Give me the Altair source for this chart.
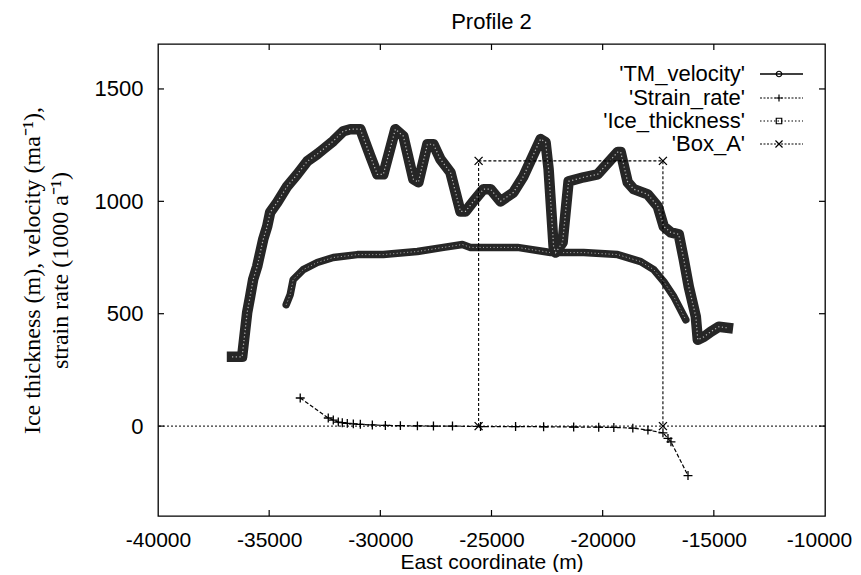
import altair as alt
import pandas as pd

# ---------------- data ----------------
ice_x = [-36670, -36216, -35991, -35856, -35721, -35540, -35270, -35090, -34955, -34640,
         -34189, -33739, -33288, -32838, -32567, -32117, -31667, -31351, -30901, -30450,
         -30135, -29865, -29324, -28964, -28513, -28288, -27883, -27613, -27297, -26847,
         -26396, -26171, -25811, -25360, -25045, -24594, -24009, -23559, -22793, -22568,
         -22432, -22207, -22117, -21802, -21532, -20856, -20225, -19324, -19189, -18874,
         -18604, -17973, -17523, -17252, -16937, -16577, -16351, -16126, -15811, -15721,
         -15450, -15135, -14775, -14369]
ice_y = [308, 308, 504, 576, 652, 710, 830, 888, 951, 995,
         1067, 1120, 1178, 1210, 1232, 1268, 1312, 1321, 1321, 1201,
         1120, 1120, 1321, 1290, 1098, 1085, 1254, 1254, 1187, 1129,
         955, 955, 1000, 1054, 1054, 1000, 1040, 1112, 1277, 1263,
         1143, 799, 772, 817, 1089, 1107, 1120, 1219, 1219, 1085,
         1054, 1031, 978, 888, 862, 853, 741, 620, 487, 384,
         397, 420, 442, 437]

vel_x = [-34234, -34054, -33919, -33468, -32838, -32117, -31036, -29865, -28333, -27162,
         -26306, -25946, -24594, -23829, -22342, -20856, -19324, -18288, -17703, -17252,
         -16802, -16261]
vel_y = [540, 585, 652, 696, 728, 750, 763, 763, 777, 795,
         808, 795, 795, 795, 772, 772, 763, 732, 696, 643,
         576, 473]

strain_x = [-33603, -32342, -32116, -31891, -31711, -31486, -31215, -30900, -30360, -29774,
            -29098, -28332, -27611, -26755, -25494, -23917, -22656, -21304, -20178, -19498,
            -18644, -17964, -17288, -17063, -16928, -16162]
strain_y = [125, 36, 27, 18, 15, 12, 10, 8, 5, 3,
            2, 1, 0, 0, -2, -2, -3, -4, -5, -6,
            -9, -18, -30, -55, -70, -220]

box_x = [-25580, -25580, -17290, -17290]
box_y = [0, 1180, 1180, 0]

x_ticks = [-40000, -35000, -30000, -25000, -20000, -15000, -10000]
y_ticks = [0, 500, 1000, 1500]
zero_line = [0]

legend_labels = ["'TM_velocity'", "'Strain_rate'", "'Ice_thickness'", "'Box_A'"]

title_text = "Profile 2"
x_title = "East coordinate (m)"
y_title = ["Ice thickness (m), velocity (ma\u207b\u00b9),", "strain rate (1000 a\u207b\u00b9)"]

# ---------------- layout / style ----------------
W, H = 667, 472
SANS = "Liberation Sans"
SERIF = "Liberation Serif"
BAND = "#262626"

xs = alt.Scale(domain=[-40000, -10000], nice=False, zero=False)
ys = alt.Scale(domain=[-400, 1700], nice=False, zero=False)

xaxis = alt.Axis(values=x_ticks, title=x_title, labelExpr="datum.value + ''",
                 ticks=False, tickSize=0, domain=False, grid=False,
                 labelFont=SANS, labelFontSize=21, labelColor="black", labelPadding=13,
                 labelFlush=False, labelOverlap=False, labelBound=False,
                 labelOffset={"condition": {"test": "datum.value == -10000", "value": -6}, "value": 0},
                 titleFont=SANS, titleFontSize=21, titleFontWeight="normal",
                 titleColor="black", titlePadding=1)
yaxis = alt.Axis(values=y_ticks, title=y_title, labelExpr="datum.value + ''",
                 ticks=False, tickSize=0, domain=False, grid=False,
                 labelFont=SANS, labelFontSize=22, labelColor="black", labelPadding=15,
                 labelOverlap=False,
                 titleFont=SERIF, titleFontSize=24, titleFontWeight="normal",
                 titleColor="black", titleX=-126, titleY=H / 2 - 10, titleAngle=270,
                 titleAlign="center", titleBaseline="middle", titleLineHeight=28)


def X(field):
    return alt.X(field, type="quantitative", scale=xs, axis=xaxis)


def Y(field):
    return alt.Y(field, type="quantitative", scale=ys, axis=yaxis)


ice_df = pd.DataFrame({"x": ice_x, "y": ice_y, "i": range(len(ice_x))})
vel_df = pd.DataFrame({"x": vel_x, "y": vel_y, "i": range(len(vel_x))})
str_df = pd.DataFrame({"x": strain_x, "y": strain_y, "i": range(len(strain_x))})
box_df = pd.DataFrame({"x": box_x, "y": box_y, "i": range(len(box_x))})

PLUS = "M-1,0L1,0M0,-1L0,1"
CROSS = "M-1,-1L1,1M1,-1L-1,1"

layers = []

# zero axis (dotted)
layers.append(alt.Chart(pd.DataFrame({"y": zero_line})).mark_rule(
    color="black", strokeWidth=1, strokeDash=[2, 2]).encode(y=Y("y")))

# velocity band
layers.append(alt.Chart(vel_df).mark_line(color=BAND, strokeWidth=7.5, strokeJoin="round",
                                          strokeCap="round").encode(x=X("x"), y=Y("y"), order="i:Q"))
layers.append(alt.Chart(vel_df).mark_line(color="#d8d8d8", strokeWidth=1, strokeDash=[1, 2.5],
                                          opacity=0.8).encode(x=X("x"), y=Y("y"), order="i:Q"))

# strain rate
layers.append(alt.Chart(str_df).mark_line(color="black", strokeWidth=1.2, strokeDash=[4, 2]).encode(
    x=X("x"), y=Y("y"), order="i:Q"))
layers.append(alt.Chart(str_df).mark_point(shape=PLUS, size=80, filled=False, stroke="black",
                                           strokeWidth=1.3, opacity=1).encode(x=X("x"), y=Y("y")))

# ice thickness band
layers.append(alt.Chart(ice_df).mark_line(color=BAND, strokeWidth=10.5, strokeJoin="round",
                                          strokeCap="square").encode(x=X("x"), y=Y("y"), order="i:Q"))
layers.append(alt.Chart(ice_df).mark_line(color="#dcdcdc", strokeWidth=1.2, strokeDash=[1.2, 2.5],
                                          opacity=0.8).encode(x=X("x"), y=Y("y"), order="i:Q"))

# Box_A
layers.append(alt.Chart(box_df).mark_line(color="black", strokeWidth=1.1, strokeDash=[3, 2]).encode(
    x=X("x"), y=Y("y"), order="i:Q"))
layers.append(alt.Chart(box_df).mark_point(shape=CROSS, size=64, filled=False, stroke="black",
                                           strokeWidth=1.3, opacity=1).encode(x=X("x"), y=Y("y")))

# inward tick marks (gnuplot style, mirrored)
xt_df = pd.DataFrame({"v": x_ticks[1:-1]})
yt_df = pd.DataFrame({"v": y_ticks})
for yy in (H - 3, 3):
    layers.append(alt.Chart(xt_df).mark_tick(orient="vertical", size=6, thickness=1.2, color="black",
                                             opacity=1).encode(x=X("v"), y=alt.value(yy)))
for xx in (3, W - 3):
    layers.append(alt.Chart(yt_df).mark_tick(orient="horizontal", size=6, thickness=1.2, color="black",
                                             opacity=1).encode(y=Y("v"), x=alt.value(xx)))

# key (gnuplot style: text right-aligned, sample to the right)
row_y = [30, 54, 77, 100]
TX, S0, S1, SM = 587, 602, 645, 621
styles = [
    dict(dash=None, shape="circle", w=1.5),
    dict(dash=[2, 1.5], shape=PLUS, w=1.1),
    dict(dash=[1.5, 2], shape="square", w=1.1),
    dict(dash=[2, 1.5], shape=CROSS, w=1.1),
]
for lab, yy, st in zip(legend_labels, row_y, styles):
    ldf = pd.DataFrame({"label": [lab]})
    layers.append(alt.Chart(ldf).mark_text(align="right", baseline="middle", font=SANS, fontSize=22,
                                           color="black").encode(
        x=alt.value(TX), y=alt.value(yy), text="label:N"))
    rule_kw = dict(color="black", strokeWidth=st["w"])
    if st["dash"]:
        rule_kw["strokeDash"] = st["dash"]
    layers.append(alt.Chart(ldf).mark_rule(**rule_kw).encode(
        x=alt.value(S0), x2=alt.value(S1), y=alt.value(yy)))
    layers.append(alt.Chart(ldf).mark_point(shape=st["shape"], size=30 if st["shape"] in ("circle", "square") else 50,
                                            filled=False, stroke="black", strokeWidth=1.2,
                                            opacity=1).encode(x=alt.value(SM), y=alt.value(yy)))

chart = alt.layer(*layers).properties(
    width=W, height=H,
    title=alt.TitleParams(title_text, font=SANS, fontSize=22, fontWeight="normal", color="black",
                          anchor="middle", offset=10),
    autosize=alt.AutoSizeParams(type="none"),
    padding={"left": 150, "top": 36, "right": 28, "bottom": 56},
    background="white",
).configure_view(stroke="black", strokeWidth=1.3)

chart.save("out.html", embed_options={"renderer": "svg", "actions": False})
